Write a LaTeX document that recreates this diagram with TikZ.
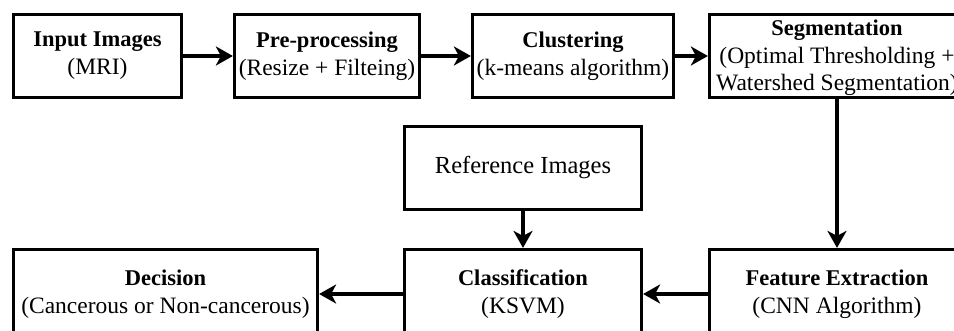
\documentclass[tikz,border=0pt]{standalone}
\usepackage{fontspec}
\setmainfont{Liberation Serif}
\usetikzlibrary{arrows.meta}
\newcommand\hdtext[1]{{\fontsize{22.5}{28}\selectfont\bfseries #1}}
\begin{document}
\begin{tikzpicture}[x=1pt,y=-1pt,
  box/.style={draw=black, line width=3.2pt, fill=white, rectangle, align=center, inner sep=0pt,
    minimum height=83pt, font=\fontsize{23.5}{28}\selectfont},
  lowbox/.style={box, minimum height=89pt},
  conn/.style={line width=3.2pt, -{Stealth[length=17pt,width=19pt,inset=5pt]}}]
\useasboundingbox (0,0) rectangle (954,331);
\clip (0,0) rectangle (954,331);
\node[box, minimum width=168pt] (in) at (97.5,56) {\hdtext{Input Images}\\(MRI)};
\node[box, minimum width=185pt] (pre) at (327,56) {\hdtext{Pre-processing}\\(Resize + Filteing)};
\node[box, minimum width=201pt] (clu) at (573,56) {\hdtext{Clustering}\\(k-means algorithm)};
\node[box, minimum width=255pt, font=\fontsize{23.5}{27.5}\selectfont] (seg) at (837,56) {\rule{0pt}{20pt}\hdtext{Segmentation}\\(Optimal Thresholding +\\Watershed Segmentation)};
\node[box, minimum width=237pt, font=\fontsize{24.5}{28}\selectfont] (ref) at (523,168) {Reference Images};
\node[lowbox, minimum width=237pt] (cls) at (523,294) {\hdtext{Classification}\\(KSVM)};
\node[lowbox, minimum width=304pt] (dec) at (165.5,294) {\hdtext{Decision}\\(Cancerous or Non-cancerous)};
\node[lowbox, minimum width=255pt] (fe) at (837,294) {\hdtext{Feature Extraction}\\(CNN Algorithm)};
\draw[conn] (in) -- (pre);
\draw[conn] (pre) -- (clu);
\draw[conn] (clu) -- (seg);
\draw[conn] (seg) -- (fe);
\draw[conn] (ref) -- (cls);
\draw[conn] (fe) -- (cls);
\draw[conn] (cls) -- (dec);
\end{tikzpicture}
\end{document}
